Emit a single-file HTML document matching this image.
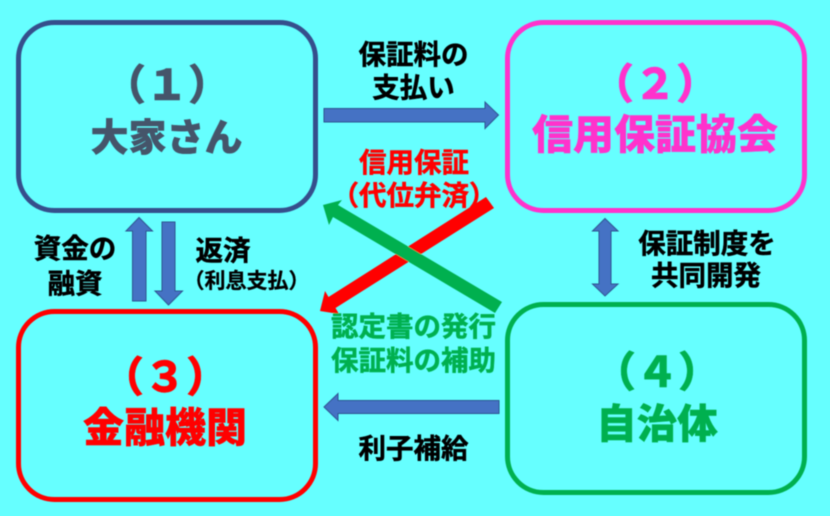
<!DOCTYPE html>
<html lang="ja">
<head>
<meta charset="utf-8">
<style>
html,body{margin:0;padding:0;background:#66FFFF;}
svg{display:block;}
text{font-family:"Liberation Sans","Noto Sans CJK JP",sans-serif;font-weight:700;text-anchor:middle;stroke-width:0.5;}
.t{font-size:41px;font-weight:900;stroke-width:0.4;}
.l{font-size:27.5px;}
.k{fill:#000;stroke:#000;}
.r{fill:#FF0000;stroke:#FF0000;}
.g{fill:#00B050;stroke:#00B050;}
.n{fill:#44546A;stroke:#44546A;}
.p{fill:#FF33CC;stroke:#FF33CC;}
.a{fill:#4472C4;stroke:#2F528F;stroke-width:1;}
.b{fill:none;stroke-width:5;}
</style>
</head>
<body>
<svg width="830" height="516" viewBox="0 0 830 516" xmlns="http://www.w3.org/2000/svg">
<defs><filter id="s" x="-5%" y="-5%" width="110%" height="110%"><feGaussianBlur stdDeviation="0.45"/></filter></defs>
<rect width="830" height="516" fill="#66FFFF"/>
<g filter="url(#s)">
<rect class="b" x="18.5" y="22.5" width="297" height="188" rx="36" stroke="#35508C"/>
<rect class="b" x="507.5" y="22.5" width="297" height="188" rx="36" stroke="#FF33CC"/>
<rect class="b" x="18.5" y="311.5" width="297" height="188" rx="36" stroke="#FF0000"/>
<rect class="b" x="507.5" y="304.5" width="297" height="188" rx="36" stroke="#00B050"/>

<text class="t n" x="167" y="100" style="font-size:42px">（１）</text>
<text class="t n" x="166.5" y="151" style="font-size:38px">大家さん</text>
<text class="t p" x="655" y="99" style="font-size:42px">（２）</text>
<text class="t p" x="655" y="149">信用保証協会</text>
<text class="t r" x="165" y="392" style="font-size:42px">（３）</text>
<text class="t r" x="165" y="442">金融機関</text>
<text class="t g" x="657" y="387" style="font-size:42px">（４）</text>
<text class="t g" x="657" y="438" style="font-size:40.5px">自治体</text>

<polygon class="a" points="324,108.5 485,108.5 485,102 498.5,115 485,128.5 485,122 324,122"/>
<polygon class="a" points="139,217.5 152.5,231 146,231 146,301 132.5,301 132.5,231 126,231"/>
<polygon class="a" points="162,222 175,222 175,291 182.5,291 168.5,305 155,291 162,291"/>
<polygon class="a" points="605,218.5 618,231 611,231 611,284 618,284 605,296 592.5,284 599,284 599,231 592.5,231"/>
<polygon class="a" points="324,407 338,393.5 338,400.5 499,400.5 499,413.5 338,413.5 338,420.5"/>

<polygon fill="#FF0000" points="320,311 325,291 328.5,297 486,197 494,208 335.5,308 339,314"/>
<polygon fill="#00B050" points="323,205 342,200 338,205 502,302 495,313 333,217 329,225"/>

<text class="l k" x="413.5" y="64">保証料の</text>
<text class="l k" x="413.5" y="97">支払い</text>
<text class="l r" x="414" y="172">信用保証</text>
<text class="l r" x="414" y="205">（代位弁済）</text>
<text class="l k" x="75" y="258">資金の</text>
<text class="l k" x="75" y="293">融資</text>
<text class="l k" x="223" y="260">返済</text>
<text x="246.5" y="288" class="k" style="font-size:21px;stroke-width:0.3">（利息支払）</text>
<text class="l k" x="707" y="253">保証制度を</text>
<text class="l k" x="706" y="285">共同開発</text>
<text class="l g" x="413.5" y="336">認定書の発行</text>
<text class="l g" x="413.5" y="370">保証料の補助</text>
<text class="l k" x="413.5" y="458">利子補給</text>
</g>
</svg>
</body>
</html>
